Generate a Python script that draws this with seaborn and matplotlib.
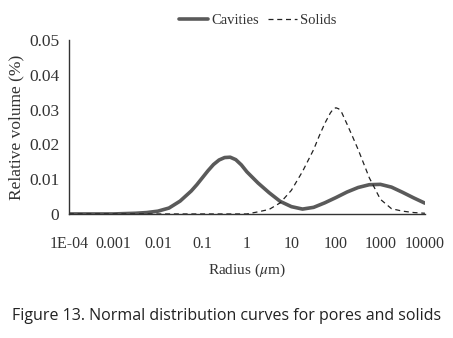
import numpy as np
import pandas as pd
import seaborn as sns
import matplotlib.pyplot as plt

# valori (esponente del raggio in decadi)
cav_exp = [-4, -3.75, -3.5, -3.25, -3, -2.75, -2.5, -2.25, -2, -1.75, -1.5, -1.25, -1.125, -1,
           -0.875, -0.75, -0.625, -0.5, -0.375, -0.25, -0.125, 0, 0.125, 0.25, 0.375, 0.5,
           0.75, 1, 1.25, 1.5, 1.75, 2, 2.25, 2.5, 2.75, 3, 3.25, 3.5, 3.75, 4]
cav_val = [0, 0, 0, 0, 0, 0.0001, 0.0002, 0.0004, 0.0008, 0.0017, 0.0037, 0.0066, 0.0084, 0.0104,
           0.0124, 0.0142, 0.0155, 0.0162, 0.0163, 0.0156, 0.0141, 0.0121, 0.0105, 0.0089,
           0.0075, 0.0061, 0.0036, 0.0021, 0.0014, 0.0019, 0.0032, 0.0047, 0.0063, 0.0076,
           0.0084, 0.0085, 0.0077, 0.0062, 0.0046, 0.0031]

sol_exp = [-4, -3, -2, -1, 0, 0.25, 0.5, 0.75, 1, 1.25, 1.5, 1.625, 1.75, 1.875, 1.9375, 2,
           2.0625, 2.125, 2.25, 2.375, 2.5, 2.75, 3, 3.25, 3.5, 3.75, 4]
sol_val = [0, 0, 0, 0, 0, 0.0006, 0.0013, 0.0032, 0.0068, 0.0122, 0.0185, 0.0224, 0.0260,
           0.0290, 0.0301, 0.0305, 0.0302, 0.0293, 0.0258, 0.0222, 0.0185, 0.0104, 0.0042,
           0.0015, 0.0008, 0.0004, 0.0002]

x_ticks = [1e-4, 1e-3, 1e-2, 1e-1, 1, 10, 100, 1000, 10000]
x_labels = ['1E-04', '0.001', '0.01', '0.1', '1', '10', '100', '1000', '10000']
y_ticks = [0, 0.01, 0.02, 0.03, 0.04, 0.05]
y_labels = ['0', '0.01', '0.02', '0.03', '0.04', '0.05']

cav = pd.DataFrame({'radius': 10 ** np.array(cav_exp, dtype=float), 'vol': cav_val})
sol = pd.DataFrame({'radius': 10 ** np.array(sol_exp, dtype=float), 'vol': sol_val})

sns.set_style('white')
plt.rcParams['font.family'] = ['Liberation Serif', 'DejaVu Serif']
plt.rcParams['mathtext.fontset'] = 'stix'

fig = plt.figure(figsize=(4.53, 3.38), dpi=100)
ax = fig.add_axes([0.152, 0.367, 0.786, 0.515])

sns.lineplot(data=cav, x='radius', y='vol', color='#5a5a5a', linewidth=2.6, ax=ax, label='Cavities')
sns.lineplot(data=sol, x='radius', y='vol', color='#222222', linewidth=0.9, ax=ax,
             label='Solids', dashes=False)
ax.lines[1].set_linestyle((0, (4, 3)))
ax.lines[0].set_solid_joinstyle('round')

ax.set_xscale('log')
ax.set_xlim(1e-4, 1e4)
ax.set_ylim(0, 0.05)
ax.set_xticks(x_ticks)
ax.set_xticklabels(x_labels)
ax.minorticks_off()
ax.set_yticks(y_ticks)
ax.set_yticklabels(y_labels)

for s in ['top', 'right']:
    ax.spines[s].set_visible(False)
for s in ['left', 'bottom']:
    ax.spines[s].set_color('#333333')
    ax.spines[s].set_linewidth(1.0)

ax.tick_params(axis='both', which='major', direction='out', length=4, width=1,
               color='#333333', labelsize=11.5, labelcolor='#333333')
ax.tick_params(axis='y', labelsize=12.5, pad=3)
ax.tick_params(axis='x', pad=12)

ax.set_xlabel(r'Radius ($\mathit{\mu}$m)', fontsize=11, color='#333333', labelpad=7)
ax.set_ylabel('Relative volume (%)', fontsize=12.5, color='#333333', labelpad=3)

leg = ax.legend(loc='lower center', bbox_to_anchor=(0.53, 1.04), ncol=2, frameon=False,
                fontsize=10.5, handlelength=2.0, handletextpad=0.2, columnspacing=0.6,
                borderaxespad=0)
for t in leg.get_texts():
    t.set_color('#333333')

fig.text(0.5, 0.065, 'Figure 13. Normal distribution curves for pores and solids',
         ha='center', va='center', fontsize=11.5, family='Open Sans', color='#222222')

fig.savefig('out.png', dpi=100)
